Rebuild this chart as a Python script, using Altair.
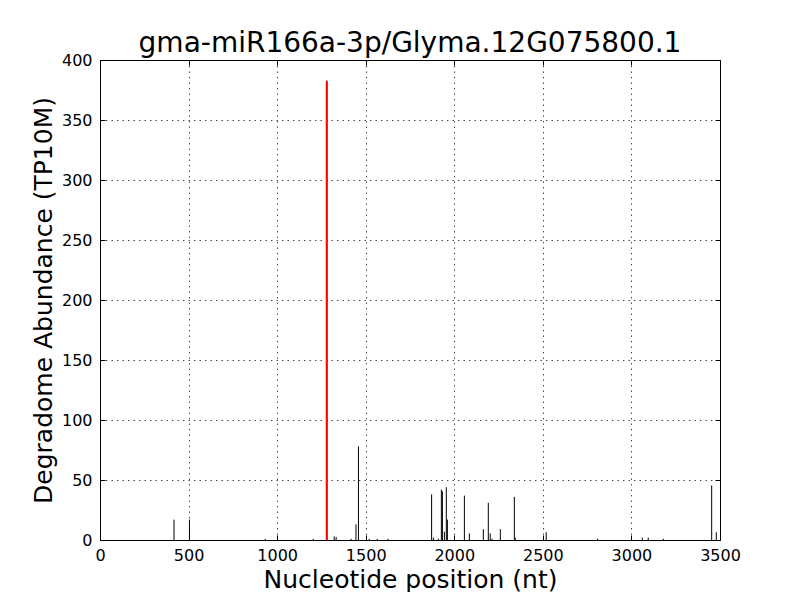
import altair as alt
import pandas as pd

title_text = "gma-miR166a-3p/Glyma.12G075800.1"
x_label = "Nucleotide position (nt)"
y_label = "Degradome Abundance (TP10M)"

positions = [418, 505, 933, 1204, 1281, 1322, 1333, 1417, 1445, 1459, 1520, 1565,
             1626, 1872, 1882, 1910, 1927, 1933, 1944, 1955, 1961, 2057, 2085,
             2164, 2192, 2203, 2213, 2260, 2339, 2344, 2519, 2809, 3061, 3095,
             3180, 3453, 3479]
abundance = [17, 17, 1, 1, 383, 3, 2.5, 1, 13, 78, 1, 1,
             1, 38, 2, 1, 42, 40.5, 7, 44, 17, 37, 5.5,
             9, 31, 5.5, 1, 9, 36, 2, 6.5, 1, 2, 2,
             1, 45.5, 6.5]
target_position = [1280]
target_abundance = [382]

x_ticks = [0, 500, 1000, 1500, 2000, 2500, 3000, 3500]
y_ticks = [0, 50, 100, 150, 200, 250, 300, 350, 400]

W, H = 620, 480
FONT = "DejaVu Sans"

df = pd.DataFrame({"pos": positions, "val": abundance})
tdf = pd.DataFrame({"pos": target_position, "val": target_abundance})

xscale = alt.Scale(domain=[0, 3500], nice=False, zero=False)
yscale = alt.Scale(domain=[0, 400], nice=False)

grid_style = dict(grid=True, gridColor="black", gridDash=[1.4, 4.1],
                  gridWidth=1, gridOpacity=0.75)

main_x_axis = alt.Axis(
    values=x_ticks, format="d", ticks=False, tickSize=0, domain=False,
    labelFont=FONT, labelFontSize=16, labelColor="black", labelBaseline="alphabetic",
    labelPadding=20, labelFlush=False, labelOverlap=False,
    title=x_label, titleFont=FONT, titleFontSize=25, titleFontWeight="normal",
    titleColor="black", titleX=W / 2, titleY=47, titleBaseline="alphabetic",
    titleAlign="center", **grid_style,
)
main_y_axis = alt.Axis(
    values=y_ticks, format="d", ticks=False, tickSize=0, domain=False,
    labelFont=FONT, labelFontSize=16, labelColor="black", labelBaseline="middle",
    labelPadding=8, labelFlush=False, labelOverlap=False,
    title=y_label, titleFont=FONT, titleFontSize=25, titleFontWeight="normal",
    titleColor="black", titleX=-49, titleY=H / 2, titleAngle=270,
    titleBaseline="alphabetic", titleAlign="center", **grid_style,
)


def tick_axis(orient, offset, vals):
    return alt.Axis(orient=orient, offset=offset, values=vals, labels=False,
                    domain=False, grid=False, ticks=True, tickSize=5,
                    tickColor="black", tickWidth=1, title=None)


black = alt.Chart(df).mark_rule(color="black", strokeWidth=1).encode(
    x=alt.X("pos:Q", scale=xscale, axis=main_x_axis),
    y=alt.Y("val:Q", scale=yscale, axis=main_y_axis),
    y2=alt.datum(0),
)

red = alt.Chart(tdf).mark_rule(color="#ff0000", strokeWidth=2).encode(
    x=alt.X("pos:Q", scale=xscale, axis=None),
    y=alt.Y("val:Q", scale=yscale, axis=None),
    y2=alt.datum(0),
)

ticks_a = alt.Chart(df).mark_rule(opacity=0).encode(
    x=alt.X("pos:Q", scale=xscale, axis=tick_axis("top", -H, x_ticks)),
    y=alt.Y("val:Q", scale=yscale, axis=tick_axis("right", -W, y_ticks)),
    y2=alt.datum(0),
)
ticks_b = alt.Chart(df).mark_rule(opacity=0).encode(
    x=alt.X("pos:Q", scale=xscale, axis=tick_axis("bottom", -H, x_ticks)),
    y=alt.Y("val:Q", scale=yscale, axis=tick_axis("left", -W, y_ticks)),
    y2=alt.datum(0),
)

chart = alt.layer(black, red, ticks_a, ticks_b).resolve_axis(
    x="independent", y="independent"
).properties(
    width=W,
    height=H,
    padding={"left": 92, "top": 52, "right": 64, "bottom": 52},
    autosize=alt.AutoSizeParams(type="none"),
    background="white",
    title=alt.Title(title_text, font=FONT, fontSize=28, fontWeight="normal",
                    color="black", anchor="middle", baseline="alphabetic",
                    offset=-28, frame="group"),
).configure_view(stroke="black", strokeWidth=1)

chart.save("out.html", embed_options={"renderer": "svg", "actions": False})
